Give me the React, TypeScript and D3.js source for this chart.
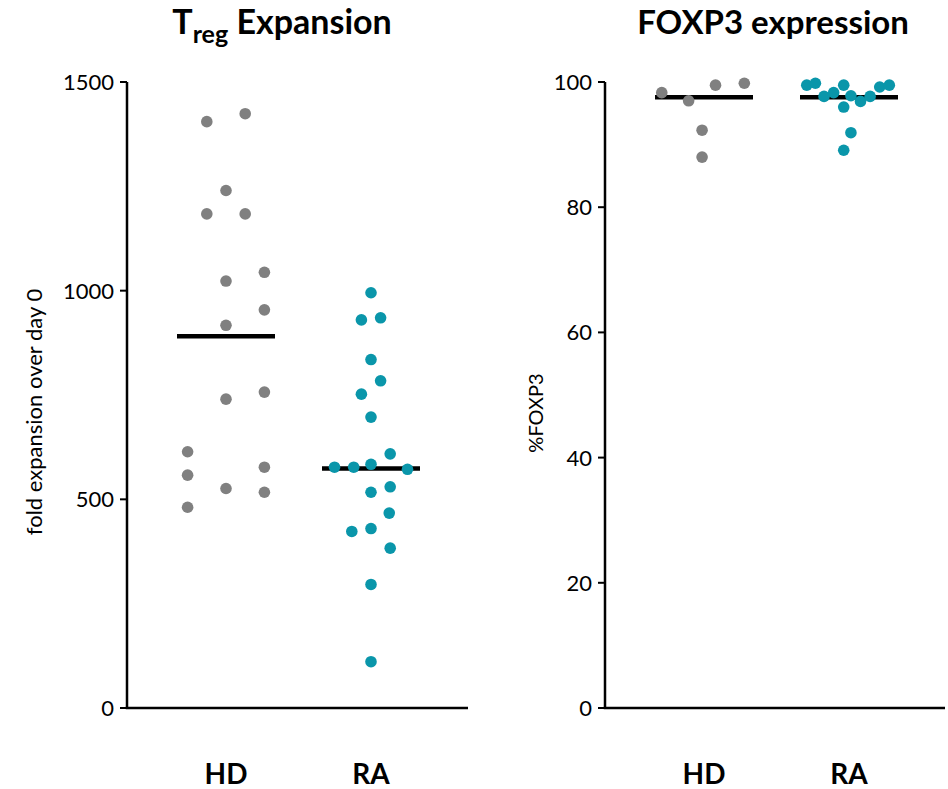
import React from 'react';
import * as d3 from 'd3';

const categories = ['HD', 'RA'];

// Treg expansion (fold over day 0)
const expHD = [1405, 1424, 1240, 1184, 1184, 1044, 1023, 954, 917, 740, 757, 614, 558, 577, 526, 517, 481];
const expHDSlot = [-2, 2, 0, -2, 2, 4, 0, 4, 0, 0, 4, -4, -4, 4, 0, 4, -4];
const expRA = [995, 930, 935, 835, 784, 752, 697, 609, 577, 577, 584, 572, 517, 530, 467, 423, 430, 383, 296, 111];
const expRASlot = [0, -1, 1, 0, 1, -1, 0, 2, -3.8, -1.8, 0, 3.8, 0, 2, 1.9, -2, 0, 2, 0, 0];
const expCenter = [891, 574];
const expTicks = [0, 500, 1000, 1500];

// FOXP3 expression (%)
const foxHD = [98.3, 97.0, 99.5, 99.8, 92.3, 88.0];
const foxHDSlot = [-4.4, -1.6, 1.2, 4.2, -0.2, -0.2];
const foxRA = [99.5, 99.8, 97.7, 98.3, 99.5, 97.8, 96.0, 96.9, 97.7, 99.2, 99.5, 91.9, 89.1];
const foxRASlot = [-4.4, -3.5, -2.6, -1.6, -0.55, 0.2, -0.55, 1.2, 2.2, 3.2, 4.2, 0.2, -0.55];
const foxCenter = [97.55, 97.55];
const foxTicks = [0, 20, 40, 60, 80, 100];

const COLORS: Record<string, string> = { HD: '#808080', RA: '#0a96aa' };
const FONT = "Lato, 'Open Sans', sans-serif";

type PanelProps = {
  x0: number;
  width: number;
  domainMax: number;
  ticks: number[];
  series: { cat: string; values: number[]; slots: number[] }[];
  centers: number[];
  title: React.ReactNode;
  titleX: number;
  titleSize: number;
  yLabel: string;
  yLabelX: number;
  yLabelY: number;
  yLabelSize: number;
};

const TOP = 82;
const BOTTOM = 708;
const SLOT = 9.6;
const R = 5.8;

function Panel(p: PanelProps) {
  const y = d3.scaleLinear().domain([0, p.domainMax]).range([BOTTOM, TOP]);
  const x = d3.scalePoint<string>().domain(categories).range([p.x0 + 99, p.x0 + 244]);
  return (
    <g>
      <text x={p.titleX} y={34} textAnchor="middle" fontFamily={FONT} fontWeight={700} fontSize={p.titleSize} fill="#000">
        {p.title}
      </text>
      <text
        transform={`translate(${p.yLabelX},${p.yLabelY}) rotate(-90)`}
        textAnchor="middle"
        fontFamily={FONT}
        fontSize={p.yLabelSize}
        fill="#000"
      >
        {p.yLabel}
      </text>
      {/* axes */}
      <line x1={p.x0} x2={p.x0} y1={y(p.domainMax)} y2={y(0)} stroke="#000" strokeWidth={2.5} />
      <line x1={p.x0 - 1.25} x2={p.x0 + p.width} y1={y(0)} y2={y(0)} stroke="#000" strokeWidth={2.5} />
      {p.ticks.map((t) => (
        <g key={t}>
          <line x1={p.x0 - 7} x2={p.x0} y1={y(t)} y2={y(t)} stroke="#000" strokeWidth={2} />
          <text x={p.x0 - 13} y={y(t)} dy="0.36em" textAnchor="end" fontFamily={FONT} fontSize={22} fill="#000">
            {t}
          </text>
        </g>
      ))}
      {categories.map((c) => (
        <text key={c} x={x(c)} y={784} textAnchor="middle" fontFamily={FONT} fontWeight={700} fontSize={28} fill="#000">
          {c}
        </text>
      ))}
      {/* center lines */}
      {categories.map((c, i) => (
        <line key={c} x1={(x(c) as number) - 49} x2={(x(c) as number) + 49} y1={y(p.centers[i])} y2={y(p.centers[i])} stroke="#000" strokeWidth={4.5} />
      ))}
      {/* dots */}
      {p.series.map((s) =>
        s.values.map((v, i) => (
          <circle key={s.cat + i} cx={(x(s.cat) as number) + s.slots[i] * SLOT} cy={y(v)} r={R} fill={COLORS[s.cat]} />
        ))
      )}
    </g>
  );
}

export default function App() {
  return (
    <svg width={948} height={789} style={{ position: 'absolute', left: 0, top: 0, background: '#fff' }}>
      <Panel
        x0={127}
        width={341}
        domainMax={1500}
        ticks={expTicks}
        series={[
          { cat: 'HD', values: expHD, slots: expHDSlot },
          { cat: 'RA', values: expRA, slots: expRASlot },
        ]}
        centers={expCenter}
        title={
          <>
            <tspan>T</tspan>
            <tspan dy={9} fontSize={25}>reg</tspan>
            <tspan dy={-9}> Expansion</tspan>
          </>
        }
        titleX={282}
        titleSize={34}
        yLabel="fold expansion over day 0"
        yLabelX={42}
        yLabelY={412}
        yLabelSize={22}
      />
      <Panel
        x0={605}
        width={340}
        domainMax={100}
        ticks={foxTicks}
        series={[
          { cat: 'HD', values: foxHD, slots: foxHDSlot },
          { cat: 'RA', values: foxRA, slots: foxRASlot },
        ]}
        centers={foxCenter}
        title="FOXP3 expression"
        titleX={773}
        titleSize={33}
        yLabel="%FOXP3"
        yLabelX={543}
        yLabelY={413}
        yLabelSize={20}
      />
    </svg>
  );
}
